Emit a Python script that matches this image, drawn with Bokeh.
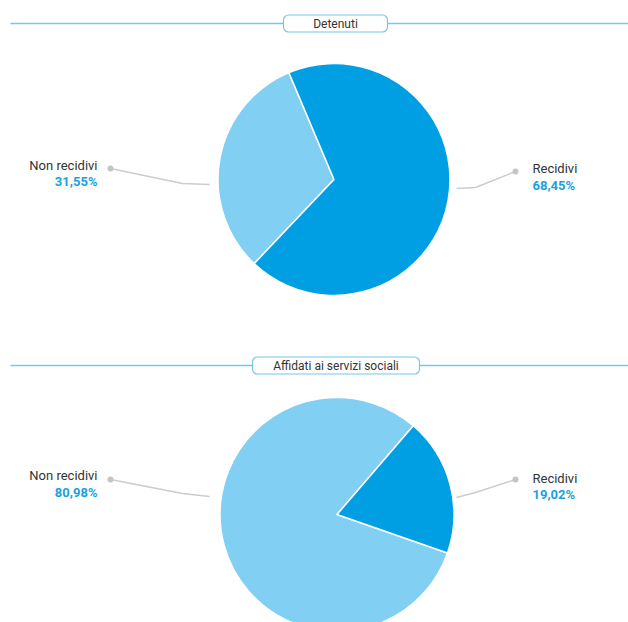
import math
from bokeh.plotting import figure
from bokeh.models import Range1d, ColumnDataSource
from bokeh.core.properties import value
from bokeh.embed import file_html
from bokeh.resources import INLINE

# ---- data ----
titles = ["Detenuti", "Affidati ai servizi sociali"]
categories = ["Non recidivi", "Recidivi"]
detenuti = [31.55, 68.45]
affidati = [80.98, 19.02]
series = [detenuti, affidati]
colors = ["#82CFF4", "#009FE3"]

FONT = "Roboto"
W, H = 628, 622

p = figure(width=W, height=H, x_range=Range1d(0, W), y_range=Range1d(0, H),
           output_backend="svg", toolbar_location=None, min_border=0,
           background_fill_color="white", border_fill_color="white")
p.axis.visible = False
p.grid.visible = False
p.outline_line_color = None

def Y(sy):
    # picture pixel y -> data y
    return H - sy

HEAD = "#74C8EA"

# layout per panel (picture pixels)
layouts = [
    dict(cx=333.5, cy=179, r=116, start=112.9, head_y=23, box=(283, 387, 14.5, 31.5),
         left=dict(dot=(110, 168), mid=(182, 183), end=(209, 184), name_y=165, pct_y=181),
         right=dict(dot=(515, 171), mid=(475, 187), end=(456, 188), name_y=168, pct_y=185)),
    dict(cx=336.5, cy=514, r=117, start=49.3, head_y=365, box=(252, 419, 356.5, 373.5),
         left=dict(dot=(110, 479), mid=(182, 493), end=(209, 496), name_y=475, pct_y=492),
         right=dict(dot=(515, 479), mid=(475, 492), end=(456, 497), name_y=478, pct_y=494)),
]

for title, vals, L in zip(titles, series, layouts):
    # header line + box
    p.segment(x0=[10], y0=[Y(L["head_y"])], x1=[640], y1=[Y(L["head_y"])],
              line_color=HEAD, line_width=1.3)
    x0, x1, t, b = L["box"]
    p.quad(left=[x0], right=[x1], top=[Y(t)], bottom=[Y(b)], fill_color="white",
           line_color=HEAD, line_width=1.2, border_radius=5)
    p.text(x=[(x0 + x1) / 2], y=[Y((t + b) / 2)], text=[title], text_align="center",
           text_baseline="middle", text_font=value(FONT), text_font_size="12px",
           text_color="#333333")

    # pie
    total = sum(vals)
    angs = [v / total * 2 * math.pi for v in vals]
    starts, ends = [], []
    a = math.radians(L["start"])
    for ang in angs:
        starts.append(a)
        ends.append(a + ang)
        a += ang
    src = ColumnDataSource(dict(start=starts, end=ends, color=colors, cat=categories))
    p.wedge(x=L["cx"], y=Y(L["cy"]), radius=L["r"], start_angle="start", end_angle="end",
            fill_color="color", line_color="white", line_width=1.5, source=src)

    # leader lines and labels
    for side, cat, v in (("left", categories[0], vals[0]), ("right", categories[1], vals[1])):
        S = L[side]
        xs = [S["dot"][0], S["mid"][0], S["end"][0]]
        ys = [Y(S["dot"][1]), Y(S["mid"][1]), Y(S["end"][1])]
        p.line(xs, ys, line_color="#CCCCCC", line_width=1.5)
        p.scatter([S["dot"][0]], [Y(S["dot"][1])], size=6, fill_color="#C4C4C4",
                  line_color=None)
        pct = f"{v:.2f}".replace(".", ",") + "%"
        if side == "left":
            tx, align = 97, "right"
        else:
            tx, align = 532, "left"
        p.text(x=[tx], y=[Y(S["name_y"])], text=[cat], text_align=align,
               text_baseline="middle", text_font=value(FONT), text_font_size="13px",
               text_color="#333333")
        p.text(x=[tx], y=[Y(S["pct_y"])], text=[pct], text_align=align,
               text_baseline="middle", text_font=value(FONT), text_font_size="13px",
               text_font_style="bold", text_color="#1A9FE0")

open("out.html", "w").write(file_html(p, INLINE))
